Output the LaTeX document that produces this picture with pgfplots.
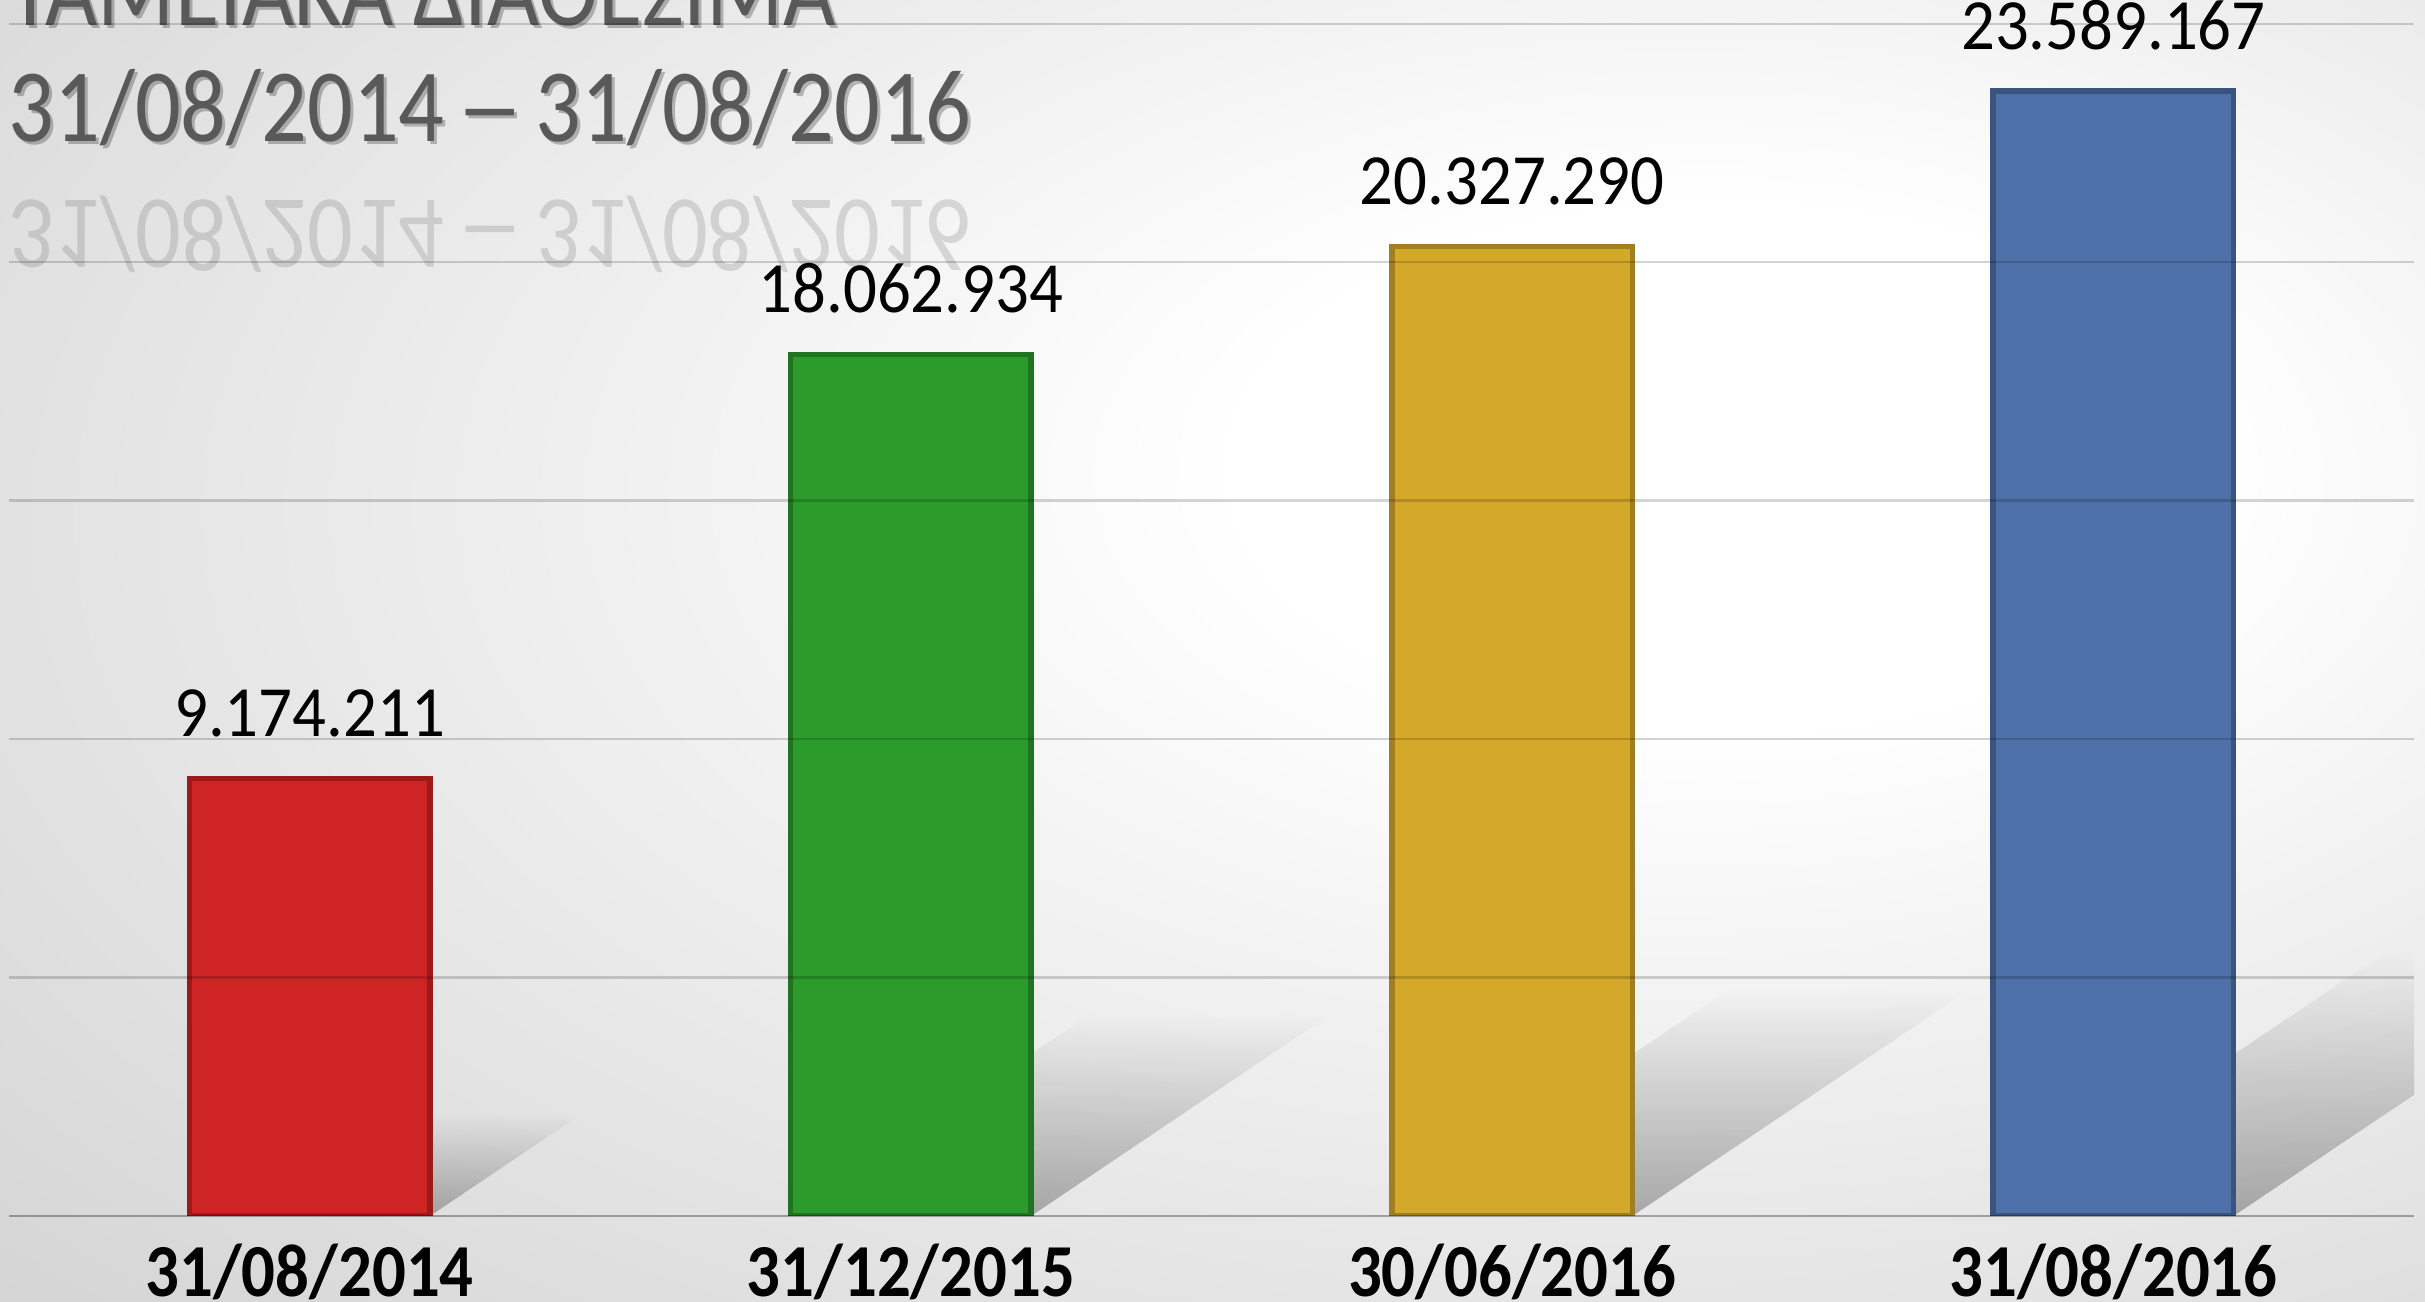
\documentclass[border=0pt]{standalone}
\usepackage{fontspec}
\setmainfont{Carlito}
\usepackage{graphicx}
\usepackage{pgfplots}
\pgfplotsset{compat=1.18}
\usetikzlibrary{fadings}
\definecolor{cRed}{HTML}{CF2424}
\definecolor{cGreen}{HTML}{2B9B2B}
\definecolor{cGold}{HTML}{D4A92A}
\definecolor{cBlue}{HTML}{4E70A8}
\definecolor{titlegray}{HTML}{595959}
\pgfdeclareradialshading{bgshade}{\pgfpoint{12bp}{8bp}}{color(0bp)=(white); color(10bp)=(white); color(55bp)=(black!23); color(85bp)=(black!28)}
\newcommand{\datetitle}{31/08/2014\hspace{0.13em}\scalebox{1.5}[1]{–}\hspace{0.13em}31/08/2016}
\begin{document}
\begin{tikzpicture}
\useasboundingbox (0,0) rectangle (24.25,13.02);
\clip (0,0) rectangle (24.25,13.02);
\shade[shading=bgshade] (0,0) rectangle (24.25,13.02);
% titles
\node[anchor=base west, text=black, opacity=0.25, font=\fontsize{25.7}{30}\selectfont, inner sep=0] at (0.11,12.73) {\scalebox{1}[1.15]{ΤΑΜΕΙΑΚΑ ΔΙΑΘΕΣΙΜΑ}};
\node[anchor=base west, text=titlegray, font=\fontsize{25.7}{30}\selectfont, inner sep=0] at (0.08,12.76) {\scalebox{1}[1.15]{ΤΑΜΕΙΑΚΑ ΔΙΑΘΕΣΙΜΑ}};
\node[anchor=base west, text=black, opacity=0.25, font=\fontsize{25.7}{30}\selectfont, inner sep=0] at (0.11,11.57) {\scalebox{1}[1.15]{\datetitle}};
\node[anchor=base west, text=titlegray, font=\fontsize{25.7}{30}\selectfont, inner sep=0] at (0.08,11.60) {\scalebox{1}[1.15]{\datetitle}};
\node[anchor=base west, text=titlegray, opacity=0.2, font=\fontsize{25.7}{30}\selectfont, inner sep=0] at (0.08,11.01) {\scalebox{1}[-1.15]{\datetitle}};
\begin{axis}[
  at={(0.09cm,0.86cm)}, anchor=south west,
  scale only axis, width=24.05cm, height=12.16cm,
  xmin=-0.5, xmax=3.5, ymin=0, ymax=25.5e6,
  axis on top,
  axis line style={draw=none},
  tick style={draw=none},
  ymajorgrids,
  ytick={0,5000000,10000000,15000000,20000000,25000000},
  yticklabels={},
  major grid style={draw=black, opacity=0.17, line width=0.7pt},
  extra y ticks={0},
  extra y tick labels={},
  extra y tick style={grid style={draw=black, opacity=0.4, line width=0.8pt}},
  xtick={0,1,2,3},
  xticklabels={\scalebox{1}[1.12]{31/08/2014},\scalebox{1}[1.12]{31/12/2015},\scalebox{1}[1.12]{30/06/2016},\scalebox{1}[1.12]{31/08/2016}},
  xticklabel style={font=\bfseries\fontsize{19}{23}\selectfont, anchor=base, yshift=-0.8cm, text=black},
  barstyle/.style={ybar, bar width=0.4, bar shift=0, line width=1.6pt,
    point meta=explicit symbolic,
    nodes near coords={\scalebox{1}[1.08]{\pgfplotspointmeta}},
    nodes near coords style={font=\fontsize{19}{22}\selectfont, anchor=base, yshift=0.42cm, text=black}},
  shadowstyle/.style={draw=none, fill=black, fill opacity=0.28, path fading=north, forget plot},
]
% shadows
\addplot[shadowstyle] coordinates {(-0.2,0) (0.2,0) (0.454,2156000) (0.054,2156000)} -- cycle;
\addplot[shadowstyle] coordinates {(0.8,0) (1.2,0) (1.70,4245000) (1.30,4245000)} -- cycle;
\addplot[shadowstyle] coordinates {(1.8,0) (2.2,0) (2.764,4777000) (2.364,4777000)} -- cycle;
\addplot[shadowstyle] coordinates {(2.8,0) (3.2,0) (3.855,5543000) (3.455,5543000)} -- cycle;
% bars
\addplot[barstyle, fill=cRed, draw=cRed!75!black] coordinates {(0,9174211) [9.174.211]};
\addplot[barstyle, fill=cGreen, draw=cGreen!75!black] coordinates {(1,18062934) [18.062.934]};
\addplot[barstyle, fill=cGold, draw=cGold!75!black] coordinates {(2,20327290) [20.327.290]};
\addplot[barstyle, fill=cBlue, draw=cBlue!75!black] coordinates {(3,23589167) [23.589.167]};
\end{axis}
\end{tikzpicture}
\end{document}
